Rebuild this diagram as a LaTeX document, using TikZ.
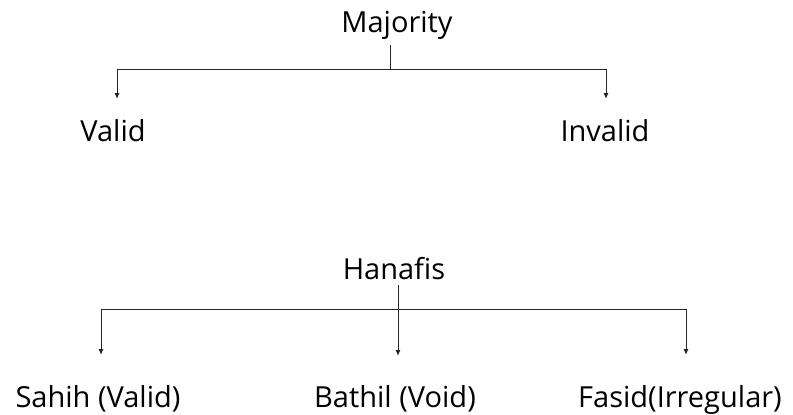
\documentclass[tikz,border=0pt]{standalone}
\usepackage{fontspec}
\setmainfont{Open Sans}
\usetikzlibrary{arrows.meta}

\begin{document}
\begin{tikzpicture}[x=1pt,y=-1pt,
  lbl/.style={font=\fontsize{29}{34}\selectfont, inner sep=0pt, anchor=base},
  ln/.style={line width=1pt, black!85},
  arr/.style={ln, -{Latex[length=6pt,width=5pt]}}]
  \useasboundingbox (0,0) rectangle (793,415);
  % Majority
  \node[lbl] (maj) at (397,32) {Majority};
  \node[lbl] (valid) at (113,141) {Valid};
  \node[lbl] (inv) at (605,141) {Invalid};
  \coordinate (mj) at (390,69);
  \coordinate (validtip) at (117,99);
  \coordinate (invtip) at (606,99);
  \draw[ln] (390,45) -- (mj);
  \draw[arr] (mj) -| (validtip);
  \draw[arr] (mj) -| (invtip);
  % Hanafis
  \node[lbl] (hana) at (394,279) {Hanafis};
  \node[lbl] (sahih) at (98,407) {Sahih (Valid)};
  \node[lbl] (bathil) at (395,407) {Bathil (Void)};
  \node[lbl] (fasid) at (680,407) {Fasid(Irregular)};
  \coordinate (hj) at (398,309);
  \coordinate (sahihtip) at (101,355);
  \coordinate (bathiltip) at (398,356);
  \coordinate (fasidtip) at (686,355);
  \draw[arr] (398,285) -- (bathiltip);
  \draw[arr] (hj) -| (sahihtip);
  \draw[arr] (hj) -| (fasidtip);
\end{tikzpicture}
\end{document}
